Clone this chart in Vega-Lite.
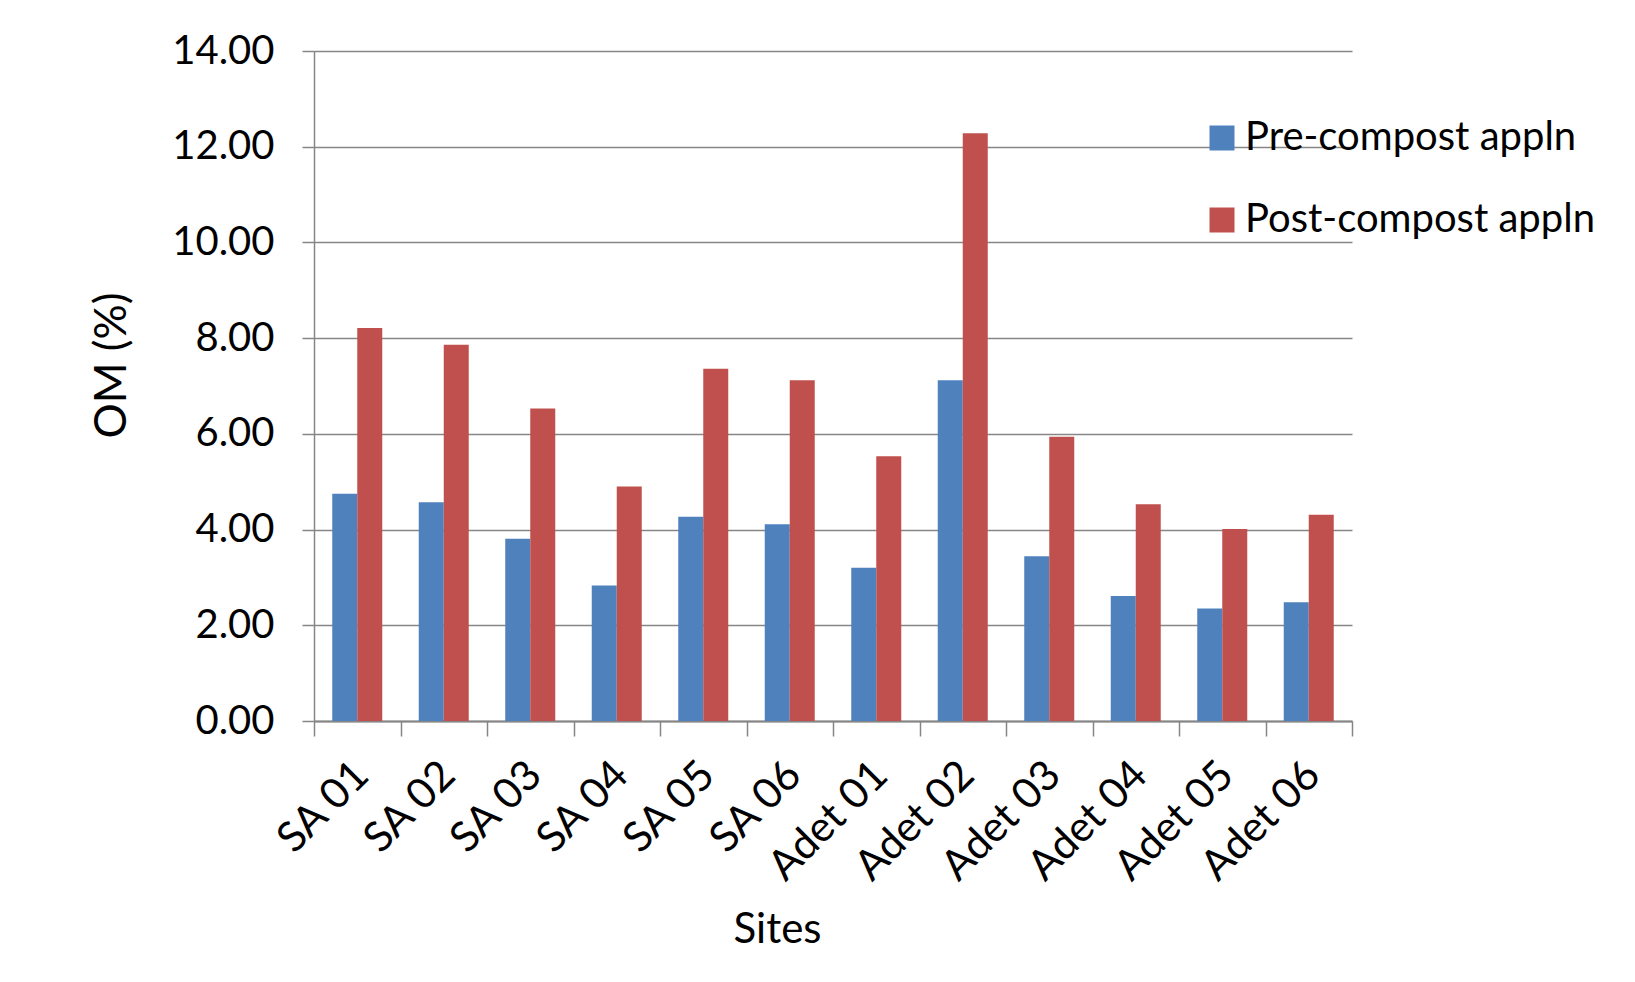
{
  "$schema": "https://vega.github.io/schema/vega-lite/v6.json",
  "autosize": {"type": "none"},
  "width": 1038,
  "height": 670,
  "padding": {"left": 314, "top": 51, "right": 283, "bottom": 261},
  "background": "white",
  "config": {
    "font": "Lato",
    "view": {"stroke": null},
    "axis": {"labelFont": "Lato", "titleFont": "Lato", "labelColor": "#000000", "titleColor": "#000000", "titleFontWeight": "normal"},
    "legend": {"labelFont": "Lato"}
  },
  "data": {
    "values": [
      {"site": "SA 01", "series": "Pre-compost appln", "om": 4.75},
      {"site": "SA 01", "series": "Post-compost appln", "om": 8.21},
      {"site": "SA 02", "series": "Pre-compost appln", "om": 4.57},
      {"site": "SA 02", "series": "Post-compost appln", "om": 7.86},
      {"site": "SA 03", "series": "Pre-compost appln", "om": 3.81},
      {"site": "SA 03", "series": "Post-compost appln", "om": 6.53},
      {"site": "SA 04", "series": "Pre-compost appln", "om": 2.83},
      {"site": "SA 04", "series": "Post-compost appln", "om": 4.9},
      {"site": "SA 05", "series": "Pre-compost appln", "om": 4.27},
      {"site": "SA 05", "series": "Post-compost appln", "om": 7.36},
      {"site": "SA 06", "series": "Pre-compost appln", "om": 4.11},
      {"site": "SA 06", "series": "Post-compost appln", "om": 7.12},
      {"site": "Adet 01", "series": "Pre-compost appln", "om": 3.2},
      {"site": "Adet 01", "series": "Post-compost appln", "om": 5.53},
      {"site": "Adet 02", "series": "Pre-compost appln", "om": 7.12},
      {"site": "Adet 02", "series": "Post-compost appln", "om": 12.28},
      {"site": "Adet 03", "series": "Pre-compost appln", "om": 3.44},
      {"site": "Adet 03", "series": "Post-compost appln", "om": 5.94},
      {"site": "Adet 04", "series": "Pre-compost appln", "om": 2.61},
      {"site": "Adet 04", "series": "Post-compost appln", "om": 4.53},
      {"site": "Adet 05", "series": "Pre-compost appln", "om": 2.35},
      {"site": "Adet 05", "series": "Post-compost appln", "om": 4.01},
      {"site": "Adet 06", "series": "Pre-compost appln", "om": 2.48},
      {"site": "Adet 06", "series": "Post-compost appln", "om": 4.31}
    ]
  },
  "mark": {"type": "bar"},
  "encoding": {
    "x": {
      "field": "site",
      "type": "nominal",
      "sort": ["SA 01", "SA 02", "SA 03", "SA 04", "SA 05", "SA 06", "Adet 01", "Adet 02", "Adet 03", "Adet 04", "Adet 05", "Adet 06"],
      "scale": {"paddingInner": 0, "paddingOuter": 0},
      "axis": {
        "title": "Sites",
        "titleFontSize": 42,
        "titleX": 463,
        "titleY": 208,
        "titleBaseline": "middle",
        "titleAnchor": "middle",
        "titleAlign": "center",
        "labelAngle": -45,
        "labelFontSize": 42,
        "labelPadding": 18,
        "labelOffset": -10,
        "tickBand": "extent",
        "tickSize": 15,
        "tickColor": "#868686",
        "tickWidth": 1.5,
        "domainColor": "#868686",
        "domainWidth": 2,
        "grid": false
      }
    },
    "xOffset": {
      "field": "series",
      "type": "nominal",
      "sort": ["Pre-compost appln", "Post-compost appln"],
      "scale": {"paddingInner": 0, "paddingOuter": 0.73}
    },
    "y": {
      "field": "om",
      "type": "quantitative",
      "scale": {"domain": [0, 14], "nice": false},
      "axis": {
        "title": "OM (%)",
        "titleFontSize": 44,
        "titlePadding": 37,
        "titleY": 314,
        "values": [0, 2, 4, 6, 8, 10, 12, 14],
        "format": ".2f",
        "labelFontSize": 40,
        "labelPadding": 28,
        "tickSize": 12,
        "tickColor": "#868686",
        "tickWidth": 1.5,
        "domainColor": "#868686",
        "domainWidth": 1.5,
        "grid": true,
        "gridColor": "#868686",
        "gridWidth": 1.5
      }
    },
    "color": {
      "field": "series",
      "type": "nominal",
      "sort": ["Pre-compost appln", "Post-compost appln"],
      "scale": {"domain": ["Pre-compost appln", "Post-compost appln"], "range": ["#4F81BD", "#C0504D"]},
      "legend": {
        "title": null,
        "orient": "none",
        "legendX": 888,
        "legendY": 67,
        "symbolType": "square",
        "symbolSize": 625,
        "symbolStrokeWidth": 0,
        "labelFontSize": 40,
        "labelOffset": 3,
        "labelLimit": 500,
        "rowPadding": 42,
        "labelColor": "#000000"
      }
    }
  }
}
